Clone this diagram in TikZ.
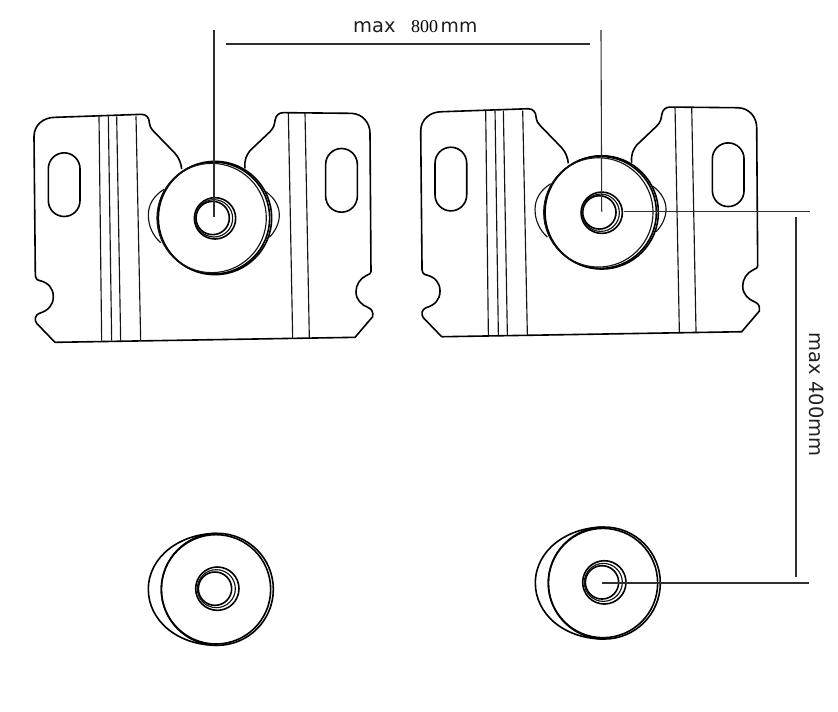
\documentclass[tikz,border=0pt]{standalone}
\usepackage{fontspec}
\setmainfont{DejaVu Sans}
\newfontfamily\numfont{Liberation Serif}
\tikzset{
  x=1pt,y=-1pt,
  edge/.style={line width=1.6pt,draw=black,line join=round},
  thin edge/.style={line width=1.15pt,draw=black!92},
  dim/.style={line width=1.1pt,draw=black!82},
  label text/.style={inner sep=0pt,text=black!88,font=\fontsize{19.5}{20}\selectfont},
  mount/.pic={
    \draw[edge] (105,757) -- (50,700) .. controls (42,690) and (45,675) .. (58,670)
      .. controls (85,662) and (100,645) .. (100,620) .. controls (100,595) and (85,578) .. (60,572)
      .. controls (50,570) and (47,565) .. (46,555) -- (42,140) .. controls (42,105) and (70,82) .. (105,82)
      -- (365,73) .. controls (380,73) and (388,85) .. (388,98) .. controls (390,112) and (395,118) .. (400,123)
      -- (465,190) .. controls (478,205) and (483,220) .. (485,237);
    \draw[edge] (675,235) .. controls (672,210) and (680,195) .. (690,182) -- (750,125)
      .. controls (762,112) and (763,105) .. (765,92) .. controls (767,75) and (778,68) .. (790,68)
      -- (995,70) .. controls (1030,72) and (1050,100) .. (1050,130) -- (1053,545)
      .. controls (1053,550) and (1048,553) .. (1040,556) .. controls (1020,565) and (1008,585) .. (1008,605)
      .. controls (1008,630) and (1025,645) .. (1045,653) .. controls (1055,657) and (1060,665) .. (1058,680)
      -- (1005,742) -- (105,757);
    \foreach \a/\b in {237/245,265/275,290/302,348/362}
      \draw[thin edge] (\a,79) -- (\b,752);
    \foreach \a/\b in {805/818,855/868}
      \draw[thin edge] (\a,68) -- (\b,744);
    \draw[edge] (85,236) arc[start angle=180,end angle=360,radius=47.5] -- (180,332)
      arc[start angle=0,end angle=180,radius=47.5] -- cycle;
    \draw[edge] (917,223) arc[start angle=180,end angle=360,radius=47.5] -- (1012,319)
      arc[start angle=0,end angle=180,radius=47.5] -- cycle;
    \draw[thin edge] (432,298) .. controls (400,318) and (385,345) .. (385,375) .. controls (385,410) and (400,438) .. (422,458);
    \draw[thin edge] (738,305) .. controls (765,325) and (778,350) .. (778,375) .. controls (778,400) and (765,425) .. (748,442);
    \draw[edge] (585,384) circle[radius=170];
    \draw[edge] (581,384) circle[radius=168];
    \draw[thin edge] (575,384) circle[radius=164];
    \draw[edge] (585,385) circle[radius=62];
    \draw[edge] (578,384) circle[radius=50];
    \draw[thin edge] (582,385) circle[radius=56];
  },
  washer/.pic={
    \draw[edge] (262,70) .. controls (150,70) and (55,140) .. (55,238)
      .. controls (55,330) and (140,406) .. (262,406);
    \draw[edge] (262,238) circle[radius=168];
    \draw[edge] (258,238) circle[radius=164];
    \draw[edge] (262,236) circle[radius=65];
    \draw[edge] (255,236) circle[radius=50];
    \draw[thin edge] (259,236) circle[radius=57];
  }
}
\begin{document}
\begin{tikzpicture}
\useasboundingbox (0,0) rectangle (838,712);
\pic[scale=1/3] (pa) at (20,90) {mount};
\pic[scale=1/3] (pb) at (406.7,84.4) {mount};
\pic[scale=1/3] (wa) at (130,510) {washer};
\pic[scale=1/3] (wb) at (517,503.7) {washer};
% free ends of the dimension lines
\coordinate (topa) at (214,30);
\coordinate (stema) at (214,217);
\coordinate (topb) at (601,30);
\coordinate (ha) at (226,44);
\coordinate (hb) at (590,44);
\coordinate (ra) at (810,211.7);
\coordinate (rb) at (809,583);
\coordinate (va) at (796,217);
\coordinate (vb) at (796,577);
\coordinate (stem) at (601.7,211.7);
\coordinate (hole) at (623.5,211.7);
\coordinate (wcentre) at (601.7,583);
\draw[dim] (topa) -- (stema);
\draw[dim] (topb) -- (stem);
\draw[dim] (ha) -- (hb);
\draw[dim] (hole) -- (ra);
\draw[dim] (wcentre) -- (rb);
\draw[dim] (va) -- (vb);
\node[label text,anchor=base west] (tmax) at (353,32) {max};
\node[inner sep=0pt,anchor=base west,font=\numfont\fontsize{18}{18}\selectfont] (tnum) at (411,32) {800};
\node[label text,anchor=base west,font=\fontsize{18.8}{20}\selectfont] (tmm) at (440.5,32) {mm};
\node[label text,rotate=-90,anchor=base west] (tv) at (809,332.5) {max 400mm};
\end{tikzpicture}
\end{document}
